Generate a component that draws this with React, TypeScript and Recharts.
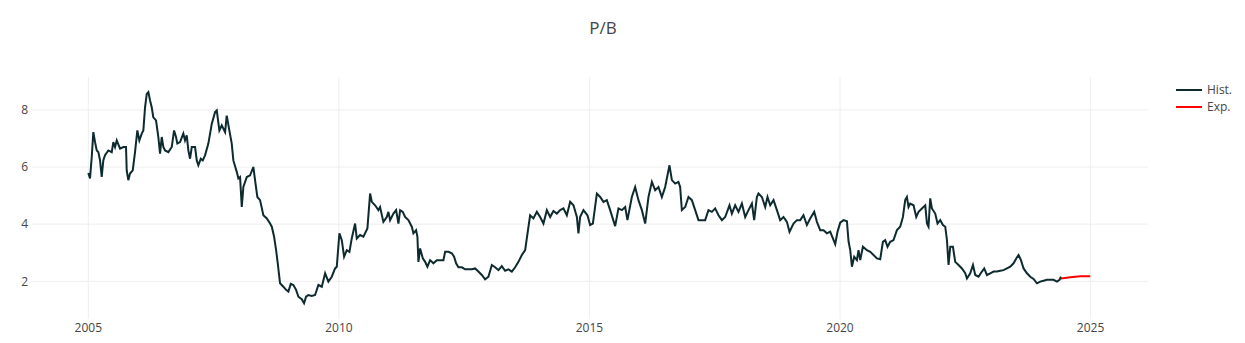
import React from 'react';
import { LineChart, Line, XAxis, YAxis, CartesianGrid } from 'recharts';

// [decimal year, P/B]
const pb2005to2007: [number, number][] = [
  [2005.0, 5.79], [2005.034, 5.6], [2005.068, 6.35], [2005.1, 7.22], [2005.134, 6.87], [2005.168, 6.58],
  [2005.2, 6.52], [2005.234, 6.23], [2005.267, 5.65], [2005.299, 6.23], [2005.333, 6.41], [2005.399, 6.58],
  [2005.467, 6.52], [2005.499, 6.87], [2005.533, 6.7], [2005.567, 6.93], [2005.633, 6.64], [2005.699, 6.7],
  [2005.752, 6.7], [2005.766, 5.88], [2005.798, 5.54], [2005.832, 5.77], [2005.886, 5.88], [2005.932, 6.52],
  [2005.978, 7.28], [2006.018, 6.93], [2006.066, 7.17], [2006.098, 7.28], [2006.132, 8.09], [2006.166, 8.56],
  [2006.198, 8.62], [2006.232, 8.33], [2006.265, 8.09], [2006.297, 7.74], [2006.351, 7.63], [2006.397, 7.05],
  [2006.431, 6.47], [2006.465, 7.05], [2006.497, 6.7], [2006.531, 6.58], [2006.597, 6.52], [2006.665, 6.7],
  [2006.711, 7.28], [2006.75, 7.05], [2006.776, 6.82], [2006.83, 6.87], [2006.896, 7.17], [2006.93, 6.93],
  [2006.964, 7.11], [2006.996, 6.58], [2007.03, 6.29], [2007.064, 6.7], [2007.13, 6.7], [2007.164, 6.23],
  [2007.196, 6.06], [2007.244, 6.29], [2007.283, 6.23], [2007.329, 6.41], [2007.395, 6.82], [2007.463, 7.51],
  [2007.529, 7.92], [2007.563, 7.98], [2007.615, 7.28], [2007.663, 7.46], [2007.729, 7.22], [2007.762, 7.8],
  [2007.814, 7.28], [2007.862, 6.82], [2007.894, 6.23], [2007.962, 5.83], [2007.994, 5.6],
];

const pb2008to2010: [number, number][] = [
  [2008.028, 5.65], [2008.062, 4.6], [2008.094, 5.3], [2008.162, 5.65], [2008.228, 5.71], [2008.293, 6.0],
  [2008.327, 5.54], [2008.373, 4.95], [2008.427, 4.84], [2008.493, 4.31], [2008.561, 4.2], [2008.627, 4.02],
  [2008.661, 3.91], [2008.707, 3.56], [2008.747, 3.09], [2008.78, 2.63], [2008.826, 1.93], [2008.892, 1.81],
  [2008.946, 1.7], [2008.992, 1.64], [2009.04, 1.91], [2009.092, 1.87], [2009.146, 1.7], [2009.192, 1.46],
  [2009.259, 1.37], [2009.305, 1.23], [2009.345, 1.46], [2009.391, 1.52], [2009.459, 1.49], [2009.525, 1.52],
  [2009.591, 1.87], [2009.659, 1.81], [2009.725, 2.28], [2009.79, 1.99], [2009.858, 2.16], [2009.924, 2.45],
  [2009.958, 2.51], [2010.01, 3.68], [2010.058, 3.44], [2010.104, 2.86], [2010.158, 3.09], [2010.21, 3.03],
  [2010.257, 3.5], [2010.323, 4.02], [2010.357, 3.5], [2010.423, 3.62], [2010.489, 3.56], [2010.569, 3.85],
  [2010.623, 5.07], [2010.657, 4.78], [2010.723, 4.66], [2010.788, 4.49], [2010.822, 4.6], [2010.888, 4.08],
  [2010.956, 4.25], [2010.988, 4.43],
];

const pb2011to2013: [number, number][] = [
  [2011.022, 4.14], [2011.088, 4.37], [2011.142, 4.49], [2011.188, 4.02], [2011.222, 4.49], [2011.275, 4.43],
  [2011.321, 4.25], [2011.387, 4.14], [2011.455, 3.91], [2011.487, 3.68], [2011.541, 3.79], [2011.567, 3.56],
  [2011.587, 2.68], [2011.621, 3.15], [2011.675, 2.8], [2011.721, 2.68], [2011.766, 2.51], [2011.82, 2.74],
  [2011.886, 2.63], [2011.954, 2.74], [2012.02, 2.74], [2012.086, 2.74], [2012.12, 3.03], [2012.186, 3.03],
  [2012.253, 2.98], [2012.299, 2.86], [2012.339, 2.63], [2012.385, 2.49], [2012.453, 2.49], [2012.519, 2.42],
  [2012.585, 2.42], [2012.653, 2.42], [2012.719, 2.45], [2012.784, 2.34], [2012.852, 2.22], [2012.918, 2.07],
  [2012.984, 2.16], [2013.052, 2.57], [2013.118, 2.49], [2013.184, 2.39], [2013.251, 2.53], [2013.317, 2.37],
  [2013.383, 2.42], [2013.451, 2.34], [2013.517, 2.49], [2013.583, 2.68], [2013.651, 2.92], [2013.717, 3.09],
  [2013.75, 3.5], [2013.816, 4.31], [2013.882, 4.2], [2013.95, 4.43],
];

const pb2014to2016: [number, number][] = [
  [2014.016, 4.25], [2014.082, 4.02], [2014.15, 4.49], [2014.216, 4.25], [2014.281, 4.46], [2014.349, 4.37],
  [2014.415, 4.49], [2014.481, 4.55], [2014.549, 4.31], [2014.615, 4.78], [2014.681, 4.66], [2014.749, 4.25],
  [2014.78, 3.68], [2014.814, 4.25], [2014.88, 4.49], [2014.96, 4.31], [2015.014, 3.97], [2015.068, 4.02],
  [2015.148, 5.07], [2015.214, 4.95], [2015.279, 4.78], [2015.347, 4.84], [2015.413, 4.49], [2015.513, 3.93],
  [2015.579, 4.55], [2015.647, 4.49], [2015.713, 4.6], [2015.758, 4.14], [2015.846, 4.95], [2015.912, 5.3],
  [2015.978, 4.84], [2016.046, 4.49], [2016.112, 4.02], [2016.178, 4.95], [2016.246, 5.48], [2016.311, 5.19],
  [2016.377, 5.3], [2016.445, 4.95], [2016.511, 5.3], [2016.597, 6.06], [2016.645, 5.54], [2016.711, 5.42],
  [2016.776, 5.48], [2016.81, 5.3], [2016.844, 4.49], [2016.91, 4.6], [2016.976, 4.95],
];

const pb2017to2019: [number, number][] = [
  [2017.044, 4.84], [2017.11, 4.49], [2017.176, 4.14], [2017.244, 4.14], [2017.309, 4.14], [2017.375, 4.49],
  [2017.443, 4.43], [2017.509, 4.55], [2017.575, 4.31], [2017.643, 4.14], [2017.709, 4.25], [2017.794, 4.66],
  [2017.842, 4.37], [2017.908, 4.66], [2017.974, 4.43], [2018.042, 4.72], [2018.108, 4.25], [2018.174, 4.49],
  [2018.242, 4.72], [2018.287, 4.14], [2018.341, 4.95], [2018.373, 5.07], [2018.441, 4.95], [2018.507, 4.6],
  [2018.553, 4.95], [2018.607, 4.66], [2018.673, 4.84], [2018.741, 4.49], [2018.806, 4.14], [2018.872, 4.25],
  [2018.94, 4.08], [2018.992, 3.73], [2019.072, 4.02], [2019.14, 4.14], [2019.206, 4.14], [2019.271, 4.31],
  [2019.339, 3.97], [2019.405, 4.2], [2019.485, 4.43], [2019.539, 4.08], [2019.605, 3.79], [2019.671, 3.79],
  [2019.739, 3.68], [2019.804, 3.74], [2019.858, 3.5], [2019.904, 3.3], [2019.95, 3.73],
];

const pb2020to2022: [number, number][] = [
  [2020.004, 4.05], [2020.07, 4.14], [2020.138, 4.1], [2020.17, 3.4], [2020.204, 3.09], [2020.238, 2.51],
  [2020.283, 2.86], [2020.337, 2.74], [2020.369, 3.09], [2020.403, 2.74], [2020.457, 3.21], [2020.537, 3.09],
  [2020.603, 3.03], [2020.669, 2.92], [2020.737, 2.8], [2020.802, 2.77], [2020.856, 3.38], [2020.902, 3.44],
  [2020.948, 3.21], [2021.002, 3.38], [2021.068, 3.44], [2021.136, 3.79], [2021.201, 3.91], [2021.255, 4.25],
  [2021.301, 4.84], [2021.335, 4.95], [2021.367, 4.6], [2021.401, 4.72], [2021.467, 4.66], [2021.521, 4.25],
  [2021.567, 4.43], [2021.635, 4.55], [2021.701, 4.66], [2021.735, 4.02], [2021.766, 3.91], [2021.8, 4.9],
  [2021.834, 4.55], [2021.9, 4.37], [2021.946, 4.02], [2022.0, 4.14], [2022.054, 3.97], [2022.1, 3.91],
  [2022.134, 3.44], [2022.166, 2.57], [2022.2, 3.21], [2022.253, 3.21], [2022.299, 2.68], [2022.365, 2.57],
  [2022.433, 2.45], [2022.499, 2.28], [2022.533, 2.1], [2022.599, 2.28], [2022.653, 2.57], [2022.699, 2.22],
  [2022.764, 2.16], [2022.832, 2.34], [2022.878, 2.45], [2022.932, 2.22], [2022.998, 2.28],
];

const pb2023to2024: [number, number][] = [
  [2023.064, 2.34], [2023.132, 2.34], [2023.198, 2.37], [2023.263, 2.39], [2023.331, 2.45], [2023.397, 2.51],
  [2023.463, 2.63], [2023.517, 2.8], [2023.563, 2.92], [2023.611, 2.74], [2023.663, 2.45], [2023.731, 2.28],
  [2023.796, 2.16], [2023.862, 2.08], [2023.93, 1.93], [2023.996, 1.99], [2024.062, 2.02], [2024.13, 2.05],
  [2024.196, 2.05], [2024.261, 2.05], [2024.329, 1.99], [2024.381, 2.05], [2024.409, 2.16],
];

const expected: [number, number][] = [
  [2024.409, 2.1], [2024.595, 2.14], [2024.794, 2.18], [2024.994, 2.18],
];

const xTicks = [2005, 2010, 2015, 2020, 2025];
const yTicks = [2, 4, 6, 8];

const histData = [
  ...pb2005to2007, ...pb2008to2010, ...pb2011to2013, ...pb2014to2016,
  ...pb2017to2019, ...pb2020to2022, ...pb2023to2024,
].map(([t, v]) => ({ t, hist: v }));
const expData = expected.map(([t, v]) => ({ t, exp: v }));

const FONT = '"Open Sans", verdana, arial, sans-serif';
const HIST_COLOR = '#0d2a2f';
const EXP_COLOR = '#ff0000';

function LegendBox() {
  const items = [
    { name: 'Hist.', color: HIST_COLOR },
    { name: 'Exp.', color: EXP_COLOR },
  ];
  return (
    <div style={{ position: 'absolute', left: 1176, top: 81, fontFamily: FONT, fontSize: 12, color: '#444' }}>
      {items.map((it) => (
        <div key={it.name} style={{ display: 'flex', alignItems: 'center', height: 17 }}>
          <svg width={27} height={17}>
            <line x1={0} y1={9} x2={26} y2={9} stroke={it.color} strokeWidth={2} />
          </svg>
          <span style={{ marginLeft: 4 }}>{it.name}</span>
        </div>
      ))}
    </div>
  );
}

export default function App() {
  return (
    <div style={{ position: 'absolute', left: 0, top: 0, width: 1245, height: 343, background: '#fff' }}>
      <div
        style={{
          position: 'absolute', left: 0, top: 16, width: 1206, textAlign: 'center',
          fontFamily: FONT, fontSize: 17, color: '#444',
        }}
      >
        P/B
      </div>
      <LineChart width={1245} height={343} margin={{ top: 77, right: 97, bottom: 0, left: 0 }}>
        <CartesianGrid stroke="#eeeeee" strokeWidth={1} horizontalValues={yTicks} verticalValues={xTicks} />
        <XAxis
          type="number"
          dataKey="t"
          domain={[2003.876, 2026.146]}
          ticks={xTicks}
          allowDataOverflow
          axisLine={false}
          tickLine={false}
          tickSize={0}
          tickMargin={4}
          height={24}
          tick={{ fill: '#444', fontSize: 12, fontFamily: FONT }}
        />
        <YAxis
          type="number"
          domain={[0.68, 9.15]}
          ticks={yTicks}
          allowDataOverflow
          axisLine={false}
          tickLine={false}
          tickSize={0}
          tickMargin={4}
          width={32}
          tick={{ fill: '#444', fontSize: 12, fontFamily: FONT }}
        />
        <Line
          data={histData}
          dataKey="hist"
          name="Hist."
          type="linear"
          stroke={HIST_COLOR}
          strokeWidth={2}
          dot={false}
          isAnimationActive={false}
        />
        <Line
          data={expData}
          dataKey="exp"
          name="Exp."
          type="linear"
          stroke={EXP_COLOR}
          strokeWidth={2}
          dot={false}
          isAnimationActive={false}
        />
      </LineChart>
      <LegendBox />
    </div>
  );
}
